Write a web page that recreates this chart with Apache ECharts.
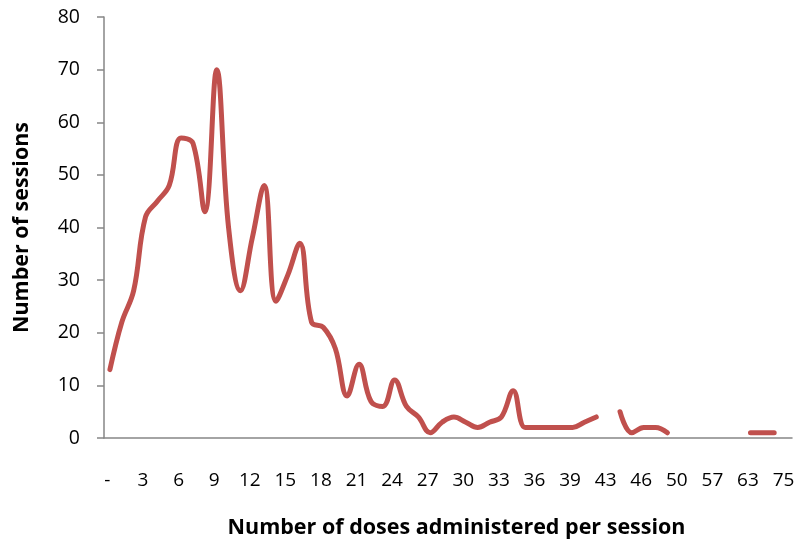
<!DOCTYPE html>
<html>
<head>
<meta charset="utf-8">
<title>Doses per session</title>
<script src="https://cdn.jsdelivr.net/npm/echarts@6/dist/echarts.min.js"></script>
<style>
  html, body { margin: 0; padding: 0; background: #fff; }
  #main { width: 800px; height: 550px; }
</style>
</head>
<body>
<div id="main"></div>
<script>
// categories (number of doses), "-" is zero
var doses = ['-', '1', '2', '3', '4', '5', '6', '7', '8', '9',
  '10', '11', '12', '13', '14', '15', '16', '17', '18', '19',
  '20', '21', '22', '23', '24', '25', '26', '27', '28', '29',
  '30', '31', '32', '33', '34', '35', '36', '37', '38', '39',
  '40', '41', '43', '44', '45', '46', '47', '48', '50', '52',
  '55', '57', '59', '60', '63', '65', '70', '75'];

// number of sessions, null = no value (gap in the line)
var sessions = [13, 22, 28, 42, 45, 48, 57, 56, 43, 70,
  40, 28, 38, 48, 26, 31, 37, 22, 21, 17,
  8, 14, 7, 6, 11, 6, 4, 1, 3, 4,
  3, 2, 3, 4, 9, 2, 2, 2, 2, 2,
  3, 4, null, 5, 1, 2, 2, 1, null, null,
  null, null, null, null, 1, 1, 1, null];

var axisColor = '#868686';
var font = '"Open Sans", Lato, sans-serif';

var chart = echarts.init(document.getElementById('main'));

var option = {
  animation: false,
  grid: { left: 104, right: 8, top: 17, bottom: 112 },
  xAxis: {
    type: 'category',
    data: doses,
    boundaryGap: true,
    name: 'Number of doses administered per session',
    nameLocation: 'middle',
    nameGap: 79,
    nameTextStyle: { fontFamily: font, fontSize: 21.5, fontWeight: 'bold', color: '#000', padding: [0, 0, 0, 17] },
    axisLine: { lineStyle: { color: axisColor, width: 1.5 } },
    axisTick: { interval: 0, length: 7, lineStyle: { color: axisColor, width: 1.5 } },
    // labels sit a little left of the category centre, like the original
    axisLabel: { interval: 2, margin: 33, fontFamily: font, fontSize: 19, color: '#000', padding: [0, 5, 0, 0] },
    splitLine: { show: false }
  },
  yAxis: {
    type: 'value',
    min: 0,
    max: 80,
    interval: 10,
    name: 'Number of sessions',
    nameLocation: 'middle',
    nameGap: 71,
    nameTextStyle: { fontFamily: font, fontSize: 21.5, fontWeight: 'bold', color: '#000' },
    axisLine: { show: true, lineStyle: { color: axisColor, width: 1.5 } },
    axisTick: { show: true, length: 7, lineStyle: { color: axisColor, width: 1.5 } },
    axisLabel: { margin: 24, fontFamily: font, fontSize: 19.5, color: '#000' },
    splitLine: { show: false }
  },
  series: [{
    type: 'line',
    data: sessions,
    smooth: 0.4,
    showSymbol: false,
    connectNulls: false,
    lineStyle: { color: '#C0504D', width: 5, cap: 'round', join: 'round' }
  }]
};

chart.setOption(option);
</script>
</body>
</html>
